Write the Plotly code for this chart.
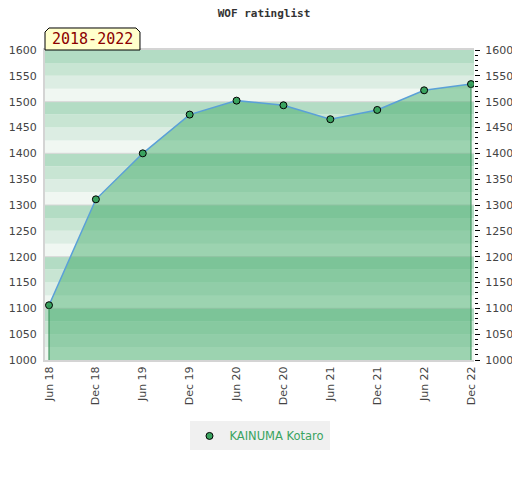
import plotly.graph_objects as go

# data
periods = ["Jun 18", "Dec 18", "Jun 19", "Dec 19", "Jun 20",
           "Dec 20", "Jun 21", "Dec 21", "Jun 22", "Dec 22"]
rating = [1106, 1311, 1400, 1475, 1502, 1493, 1466, 1484, 1522, 1534]
player = "KAINUMA Kotaro"
span_label = "2018-2022"
y_min, y_max = 1000, 1600

idx = list(range(len(periods)))

fig = go.Figure()

# area + line + markers
fig.add_trace(go.Scatter(
    x=idx, y=rating, name=player, mode="lines+markers",
    fill="tozeroy", fillcolor="rgba(61,169,102,0.47)",
    line=dict(color="#5aa0d8", width=1.5),
    marker=dict(color="#3aa35f", size=7, line=dict(color="black", width=1)),
    showlegend=False,
))

# vertical edges of the filled area
fig.add_trace(go.Scatter(
    x=[idx[0], idx[0], None, idx[-1], idx[-1]],
    y=[y_min, rating[0], None, y_min, rating[-1]],
    mode="lines", line=dict(color="#2f8a50", width=1),
    showlegend=False, hoverinfo="skip", yaxis="y2",
))

# legend entry: marker only
fig.add_trace(go.Scatter(
    x=[None], y=[None], name=player, mode="markers",
    marker=dict(color="#3aa35f", size=7, line=dict(color="black", width=1)),
))

# striped background, 4 shades per 100 points
shades = ["#f0f7f2", "#dcede3", "#c8e5d3", "#b3dcc4"]
shapes = []
for i, lo in enumerate(range(y_min, y_max, 25)):
    shapes.append(dict(type="rect", xref="paper", yref="y", x0=0, x1=1,
                       y0=lo, y1=lo + 25, fillcolor=shades[i % 4],
                       line=dict(width=0), layer="below"))
for v in range(y_min + 100, y_max, 100):
    shapes.append(dict(type="line", xref="paper", yref="y", x0=0, x1=1,
                       y0=v, y1=v, line=dict(color="#d6d6d6", width=1),
                       layer="below"))

# year-span tag above the plot
shapes.append(dict(type="path", xref="paper", yref="paper",
                   path="M 0,1 L 0,1.058 L 0.0093,1.071 L 0.2121,1.071 "
                        "L 0.2214,1.058 L 0.2214,1 Z",
                   fillcolor="#ffffcc", line=dict(color="black", width=1),
                   layer="above"))

# page body adds an 8px offset, so the figure is 8px smaller
fig.update_layout(
    width=512, height=472,
    margin=dict(l=37, r=46, t=42, b=120, autoexpand=False),
    paper_bgcolor="white", plot_bgcolor="white",
    font=dict(family="DejaVu Sans", size=11, color="#444"),
    title=dict(text="<b>WOF ratinglist</b>", x=0.5, xanchor="center",
               xref="container", yref="container",
               y=0.989, yanchor="middle",
               font=dict(family="DejaVu Sans Mono", size=11, color="#333")),
    shapes=shapes,
    annotations=[dict(text=span_label, xref="paper", yref="paper",
                      x=0.1107, y=1.035, showarrow=False,
                      xanchor="center", yanchor="middle",
                      font=dict(family="DejaVu Sans Mono", size=15,
                                color="#8b0000"))],
    xaxis=dict(tickmode="array", tickvals=idx, ticktext=periods,
               range=[-0.085, len(idx) - 1 + 0.064], tickangle=-90,
               showgrid=False, zeroline=False, showline=True,
               linecolor="#d4d4d4", linewidth=2, mirror=True, ticks="",
               automargin=False),
    yaxis=dict(range=[y_min, y_max], dtick=50, showgrid=False,
               zeroline=False, showline=True, linecolor="#d4d4d4",
               linewidth=2, ticks="", automargin=False,
               ticklabelstandoff=4),
    yaxis2=dict(range=[y_min, y_max], dtick=50, overlaying="y",
                side="right", showgrid=False, zeroline=False,
                ticks="outside", ticklen=5, tickcolor="black",
                automargin=False, ticklabelstandoff=3,
                minor=dict(dtick=10, ticks="outside", ticklen=3,
                           tickcolor="black")),
    legend=dict(orientation="h", x=0.5, xanchor="center", y=-0.245,
                yanchor="middle", bgcolor="#f0f0f0", itemwidth=30,
                font=dict(color="#3aa35f", size=11.5)),
    showlegend=True,
)

fig.write_html("out.html")
